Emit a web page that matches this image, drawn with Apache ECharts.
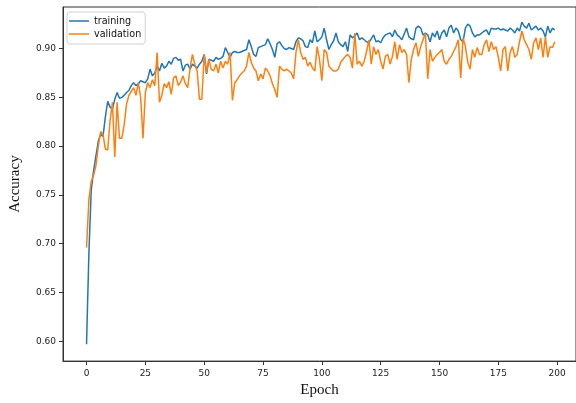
<!DOCTYPE html>
<html lang="en">
  <head>
    <meta charset="UTF-8" />
    <title>Accuracy</title>
    <style>
      html, body { margin: 0; padding: 0; background: #fff; }
    </style>
  </head>
  <body>
    <div id="main" style="width: 576px; height: 403px"></div>
    <script src="https://cdn.jsdelivr.net/npm/echarts@6/dist/echarts.min.js"></script>
    <script>
      var seriesNames = ["training", "validation"];

      var training = [
        0.597, 0.690, 0.755, 0.775, 0.790, 0.805, 0.812, 0.810, 0.830, 0.846,
        0.840, 0.838, 0.848, 0.855, 0.849, 0.850, 0.852, 0.855, 0.857, 0.862,
        0.865, 0.862, 0.864, 0.867, 0.866, 0.865, 0.869, 0.879, 0.872, 0.875,
        0.882, 0.877, 0.885, 0.880, 0.882, 0.887, 0.884, 0.890, 0.891, 0.888,
        0.889, 0.877, 0.883, 0.884, 0.879, 0.884, 0.882, 0.880, 0.884, 0.887,
        0.894, 0.874, 0.889, 0.888, 0.887, 0.891, 0.889, 0.890, 0.892, 0.901,
        0.896, 0.891, 0.896, 0.897, 0.896, 0.896, 0.897, 0.898, 0.899, 0.909,
        0.902, 0.894, 0.892, 0.901, 0.902, 0.903, 0.904, 0.910, 0.905, 0.899,
        0.891, 0.905, 0.907, 0.903, 0.900, 0.899, 0.901, 0.900, 0.899, 0.907,
        0.911, 0.910, 0.908, 0.902, 0.901, 0.909, 0.906, 0.918, 0.907, 0.909,
        0.912, 0.921, 0.909, 0.899, 0.904, 0.908, 0.916, 0.907, 0.904, 0.902,
        0.907, 0.897, 0.914, 0.911, 0.913, 0.916, 0.909, 0.911, 0.909, 0.907,
        0.906, 0.910, 0.914, 0.907, 0.908, 0.906, 0.911, 0.914, 0.915, 0.916,
        0.912, 0.919, 0.914, 0.912, 0.909, 0.915, 0.921, 0.912, 0.910, 0.909,
        0.921, 0.923, 0.921, 0.914, 0.916, 0.914, 0.907, 0.916, 0.912, 0.918,
        0.909, 0.916, 0.919, 0.912, 0.921, 0.924, 0.916, 0.921, 0.918, 0.909,
        0.907, 0.921, 0.925, 0.923, 0.916, 0.912, 0.914, 0.914, 0.916, 0.918,
        0.919, 0.914, 0.921, 0.920, 0.920, 0.921, 0.919, 0.920, 0.919, 0.918,
        0.921, 0.919, 0.916, 0.921, 0.918, 0.927, 0.923, 0.921, 0.926, 0.919,
        0.921, 0.923, 0.919, 0.921, 0.918, 0.912, 0.923, 0.916, 0.921, 0.919
      ];

      var validation = [
        0.696, 0.745, 0.764, 0.770, 0.780, 0.800, 0.815, 0.812, 0.797, 0.796,
        0.826, 0.845, 0.789, 0.845, 0.808, 0.808, 0.822, 0.843, 0.852, 0.856,
        0.860, 0.852, 0.865, 0.850, 0.808, 0.855, 0.865, 0.860, 0.868, 0.862,
        0.896, 0.845, 0.852, 0.864, 0.860, 0.866, 0.853, 0.870, 0.872, 0.862,
        0.866, 0.872, 0.864, 0.860, 0.880, 0.894, 0.884, 0.877, 0.848, 0.848,
        0.894, 0.875, 0.889, 0.879, 0.877, 0.884, 0.875, 0.887, 0.880, 0.887,
        0.884, 0.896, 0.847, 0.865, 0.868, 0.872, 0.875, 0.877, 0.882, 0.896,
        0.886, 0.880, 0.877, 0.867, 0.874, 0.869, 0.880, 0.877, 0.872, 0.864,
        0.858, 0.850, 0.882, 0.879, 0.877, 0.879, 0.877, 0.875, 0.869, 0.896,
        0.909, 0.896, 0.889, 0.891, 0.882, 0.886, 0.880, 0.877, 0.902, 0.889,
        0.867, 0.899, 0.896, 0.882, 0.879, 0.877, 0.877, 0.879, 0.886, 0.889,
        0.892, 0.894, 0.891, 0.880, 0.916, 0.884, 0.887, 0.882, 0.887, 0.897,
        0.909, 0.884, 0.902, 0.894, 0.899, 0.887, 0.879, 0.892, 0.894, 0.884,
        0.892, 0.907, 0.889, 0.904, 0.896, 0.899, 0.894, 0.865, 0.889, 0.899,
        0.906, 0.892, 0.902, 0.909, 0.916, 0.869, 0.899, 0.887, 0.891, 0.894,
        0.896, 0.899, 0.887, 0.884, 0.889, 0.892, 0.897, 0.902, 0.909, 0.870,
        0.911, 0.902, 0.886, 0.879, 0.899, 0.891, 0.901, 0.894, 0.894, 0.904,
        0.909, 0.897, 0.907, 0.899, 0.902, 0.891, 0.877, 0.899, 0.902, 0.877,
        0.896, 0.902, 0.891, 0.894, 0.907, 0.918, 0.909, 0.904, 0.899, 0.889,
        0.906, 0.911, 0.899, 0.911, 0.891, 0.912, 0.891, 0.902, 0.901, 0.907
      ];

      var xTicks = [0, 25, 50, 75, 100, 125, 150, 175, 200];
      var yTicks = [0.6, 0.65, 0.7, 0.75, 0.8, 0.85, 0.9];

      var colors = ["#1f77b4", "#ff7f0e"];

      function toPoints(values) {
        return values.map(function (v, i) {
          return [i, v];
        });
      }

      var myChart = echarts.init(document.getElementById("main"));

      var tickFont = {
        fontFamily: "DejaVu Sans",
        fontSize: 9,
        color: "#222",
      };

      var titleFont = {
        fontFamily: "Liberation Serif",
        fontSize: 15,
        color: "#111",
      };

      var option = {
        animation: false,
        backgroundColor: "#fff",
        color: colors,
        grid: {
          left: 62,
          top: 7,
          right: -1,
          bottom: 38,
          show: true,
          borderColor: "#333",
          borderWidth: 1,
        },
        legend: {
          data: seriesNames.map(function (n) {
            return { name: n, icon: "rect" };
          }),
          orient: "vertical",
          left: 67,
          top: 12,
          padding: [3, 4, 4, 2],
          itemWidth: 20,
          itemHeight: 1.5,
          itemGap: 1,
          backgroundColor: "rgba(255,255,255,0.8)",
          borderColor: "#d0d0d0",
          borderWidth: 1,
          borderRadius: 3,
          textStyle: {
            fontFamily: "DejaVu Sans",
            fontSize: 9.6,
            lineHeight: 12,
            color: "#111",
          },
        },
        xAxis: {
          type: "value",
          min: -10,
          max: 208,
          name: "Epoch",
          nameLocation: "middle",
          nameGap: 20,
          nameTextStyle: titleFont,
          axisLine: { show: true, onZero: false, lineStyle: { color: "#333" } },
          axisTick: {
            show: true,
            length: 4,
            customValues: xTicks,
            lineStyle: { color: "#333" },
          },
          axisLabel: Object.assign({ margin: 8, customValues: xTicks }, tickFont),
          splitLine: { show: false },
        },
        yAxis: {
          type: "value",
          min: 0.5797,
          max: 0.9426,
          name: "Accuracy",
          nameLocation: "middle",
          nameGap: 40,
          nameTextStyle: titleFont,
          axisLine: { show: true, onZero: false, lineStyle: { color: "#333" } },
          axisTick: {
            show: true,
            length: 4,
            customValues: yTicks,
            lineStyle: { color: "#333" },
          },
          axisLabel: Object.assign(
            {
              margin: 7,
              customValues: yTicks,
              formatter: function (v) {
                return v.toFixed(2);
              },
            },
            tickFont
          ),
          splitLine: { show: false },
        },
        series: [
          {
            name: seriesNames[0],
            type: "line",
            data: toPoints(training),
            symbol: "none",
            lineStyle: { width: 1.5, color: colors[0] },
            itemStyle: { color: colors[0] },
          },
          {
            name: seriesNames[1],
            type: "line",
            data: toPoints(validation),
            symbol: "none",
            lineStyle: { width: 1.5, color: colors[1] },
            itemStyle: { color: colors[1] },
          },
        ],
      };

      myChart.setOption(option);
    </script>
  </body>
</html>
